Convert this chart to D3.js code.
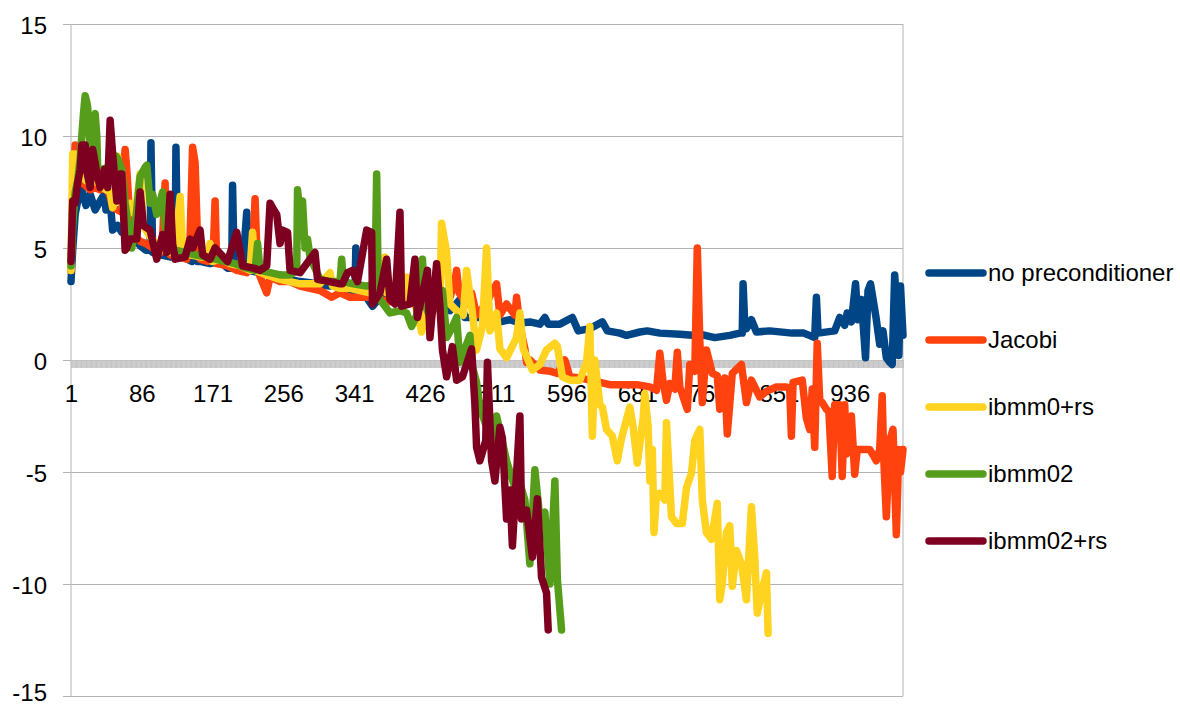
<!DOCTYPE html>
<html>
<head>
<meta charset="utf-8">
<script src="https://cdn.jsdelivr.net/npm/d3@7"></script>
<style>
body { margin: 0; background: #fff; }
svg text { font-family: 'Liberation Sans', Arial, sans-serif; font-size: 24px; fill: #000; }
</style>
</head>
<body>
<svg id="chart" width="1180" height="706"></svg>
<script>
// iterations on the category axis
let categories = d3.range(1, 1001)
let x_tick_labels = [1, 86, 171, 256, 341, 426, 511, 596, 681, 766, 851, 936]
let y_ticks = [-15, -10, -5, 0, 5, 10, 15]

let series_names = ['no preconditioner', 'Jacobi', 'ibmm0+rs', 'ibmm02', 'ibmm02+rs']
let series_colors = ['#004586', '#ff420e', '#ffd320', '#579d1c', '#7e0021']

// [iteration, value]
let no_pre = [[1,3.5],[3,4.9],[6,6.5],[9,7.1],[14,7.6],[19,6.9],[24,7.4],[30,6.7],[36,7.1],[41,7.4],[43,6.7],[48,7.1],[51,5.8],[57,6.0],[62,5.7],[69,5.6],[78,5.4],[84,5.1],[91,4.9],[96,4.9],[97,9.7],[99,4.8],[108,4.7],[120,4.6],[126,4.6],[127,9.5],[129,4.6],[138,4.55],[146,4.4],[151,5.6],[153,4.4],[156,4.4],[168,4.3],[180,4.4],[189,4.1],[194,4.1],[195,7.8],[197,4.1],[207,4.1],[212,6.6],[214,4.0],[228,3.9],[240,3.8],[252,3.8],[264,3.6],[276,3.5],[288,3.45],[300,3.35],[312,3.3],[324,3.3],[336,3.1],[342,3.1],[343,5.0],[345,3.1],[354,2.9],[363,2.4],[372,2.8],[384,2.7],[396,2.6],[408,2.7],[420,2.7],[432,2.6],[444,2.5],[456,2.2],[468,2.7],[474,1.9],[480,1.9],[492,1.9],[504,1.7],[516,1.7],[528,1.8],[540,1.65],[552,1.7],[564,1.6],[570,1.9],[574,1.6],[588,1.6],[603,1.9],[610,1.3],[624,1.4],[639,1.7],[645,1.3],[660,1.2],[668,1.1],[684,1.25],[693,1.3],[708,1.2],[732,1.15],[747,1.1],[756,1.15],[774,1.0],[792,1.1],[804,1.2],[807,1.2],[808,3.4],[810,1.6],[812,1.4],[818,1.8],[824,1.25],[840,1.3],[867,1.2],[881,1.2],[894,1.0],[896,2.8],[898,1.2],[918,1.3],[924,1.9],[930,1.55],[933,2.1],[938,1.7],[943,3.4],[946,1.8],[950,2.7],[955,0.1],[958,3.1],[961,3.4],[965,2.5],[968,1.8],[972,0.7],[976,1.3],[980,0.1],[984,-0.1],[987,-0.2],[990,3.8],[992,2.7],[995,0.2],[997,3.3],[1000,1.1]]

let jacobi = [[1,4.0],[3,6.5],[6,9.6],[8,9.0],[12,8.0],[18,7.8],[24,7.6],[30,7.7],[36,7.6],[43,7.7],[48,7.3],[51,6.8],[57,6.7],[62,6.6],[64,8.5],[66,9.4],[68,8.5],[72,6.0],[78,5.5],[84,5.3],[91,5.2],[99,5.0],[108,4.8],[111,5.5],[114,7.9],[116,5.0],[120,4.7],[132,4.6],[140,4.5],[144,5.5],[147,9.5],[150,8.8],[153,5.3],[156,4.5],[165,4.4],[172,5.0],[174,7.1],[176,4.3],[189,4.2],[200,4.0],[212,3.9],[219,4.5],[222,7.2],[225,4.0],[236,3.0],[240,3.7],[252,3.5],[264,3.5],[276,3.3],[288,3.2],[300,3.1],[314,2.8],[324,3.0],[336,2.8],[348,2.8],[360,2.8],[372,2.7],[384,2.6],[396,2.6],[408,2.7],[420,2.8],[432,2.6],[444,2.7],[456,2.8],[462,3.5],[464,4.0],[467,3.0],[476,2.5],[482,3.0],[488,2.0],[499,2.5],[512,3.4],[516,2.0],[524,2.5],[534,2.0],[536,2.8],[540,1.5],[546,0.5],[548,-0.1],[552,0.0],[564,-0.45],[576,-0.5],[585,-0.6],[594,0.0],[600,-0.75],[612,-0.8],[624,-0.9],[636,-1.0],[648,-1.1],[660,-1.1],[680,-1.1],[696,-1.2],[704,-1.35],[708,0.3],[712,-1.0],[716,-1.8],[720,-1.05],[726,-1.3],[729,0.35],[732,-1.2],[741,-2.2],[744,-0.2],[750,-0.5],[753,5.0],[756,0.9],[759,-1.9],[764,0.45],[771,-0.6],[777,-0.7],[780,-2.2],[786,-0.8],[789,-3.3],[795,-0.6],[806,-0.2],[812,-1.9],[818,-0.9],[828,-1.65],[836,-1.4],[848,-1.2],[860,-1.2],[864,-1.3],[866,-3.4],[868,-1.0],[879,-0.9],[884,-2.6],[888,-3.1],[891,-1.3],[894,-3.9],[897,0.75],[900,-1.8],[903,-1.9],[908,-2.2],[911,-2.3],[915,-5.2],[918,-2.0],[924,-2.0],[927,-5.2],[930,-2.0],[932,-4.2],[938,-2.5],[942,-5.1],[945,-4.0],[960,-4.0],[965,-4.3],[968,-4.5],[972,-4.0],[975,-1.6],[977,-4.5],[980,-7.0],[984,-3.6],[988,-3.1],[992,-7.8],[995,-4.0],[997,-5.0],[1000,-4.0]]

let ibmm0_rs = [[1,4.0],[3,9.2],[6,9.2],[9,8.5],[14,8.2],[19,8.0],[24,8.6],[30,8.0],[36,7.8],[43,7.6],[48,7.5],[51,6.8],[56,7.5],[57,9.1],[60,7.5],[62,7.0],[68,6.3],[72,7.0],[78,6.5],[84,8.3],[88,6.0],[96,5.5],[108,5.0],[120,4.8],[126,5.0],[132,7.3],[135,5.0],[144,4.7],[156,4.6],[165,4.6],[168,5.2],[171,4.4],[180,4.5],[192,4.3],[204,4.2],[216,4.0],[219,5.7],[222,4.0],[236,3.8],[252,3.6],[264,3.5],[276,3.4],[288,3.4],[300,3.4],[312,3.9],[315,3.3],[324,3.2],[336,3.2],[348,3.1],[360,3.0],[372,3.0],[378,4.6],[380,3.0],[396,2.9],[404,3.7],[407,2.6],[414,2.5],[422,1.25],[430,2.5],[444,2.7],[446,6.1],[452,4.8],[456,2.5],[464,2.2],[472,2.0],[476,4.0],[482,2.4],[488,0.45],[495,1.5],[500,5.0],[504,1.3],[512,2.1],[516,0.5],[524,0.1],[536,1.0],[540,2.1],[544,0.5],[555,-0.45],[564,-0.2],[572,0.45],[582,0.75],[585,0.6],[591,-0.75],[600,-0.9],[612,-0.9],[620,-0.1],[624,1.5],[627,-3.4],[630,0.0],[636,-2.0],[639,-2.1],[644,-3.1],[651,-3.4],[657,-4.5],[662,-3.5],[672,-2.1],[676,-3.0],[681,-4.6],[688,-2.6],[690,-1.5],[694,-3.0],[696,-5.4],[699,-4.0],[701,-7.7],[704,-6.0],[708,-5.95],[714,-6.25],[716,-2.8],[722,-7.0],[728,-7.3],[735,-7.3],[740,-5.7],[746,-5.05],[750,-3.6],[756,-3.1],[759,-6.25],[764,-7.7],[770,-8.0],[777,-6.4],[780,-10.7],[783,-10.0],[788,-7.7],[792,-7.4],[795,-10.1],[800,-8.5],[806,-9.1],[812,-10.7],[818,-6.55],[822,-8.8],[825,-11.3],[830,-10.4],[836,-9.5],[838,-12.2]]

let ibmm02 = [[1,4.2],[3,6.0],[6,7.5],[9,8.0],[12,9.0],[16,11.0],[18,11.8],[20,11.5],[21,11.3],[24,9.5],[26,10.5],[30,11.0],[32,10.0],[33,8.6],[36,8.4],[38,8.5],[45,8.6],[51,8.4],[55,9.1],[57,9.0],[62,8.5],[66,7.0],[72,5.5],[74,5.0],[78,6.0],[84,8.2],[90,8.6],[92,8.7],[96,7.0],[99,7.4],[104,6.5],[111,7.5],[114,6.0],[120,5.0],[126,4.9],[138,4.8],[150,4.7],[162,4.6],[174,4.5],[186,4.4],[198,4.3],[212,4.1],[222,4.0],[225,5.2],[228,4.0],[240,3.9],[252,3.8],[264,3.8],[272,4.0],[273,7.6],[276,6.5],[279,7.1],[282,5.0],[285,5.4],[288,4.6],[300,3.6],[312,3.5],[324,3.5],[326,4.5],[328,3.5],[340,3.4],[356,3.3],[366,3.4],[368,8.3],[370,3.0],[372,2.7],[384,2.1],[396,2.2],[404,2.1],[410,1.5],[416,2.0],[423,4.5],[426,2.5],[432,1.9],[440,2.5],[447,3.1],[452,1.0],[458,1.4],[464,1.9],[468,-0.1],[480,1.1],[483,-0.3],[488,-1.0],[492,-2.1],[500,-3.0],[506,-3.7],[512,-2.5],[518,-3.5],[524,-4.5],[534,-5.7],[540,-5.5],[546,-6.25],[552,-9.1],[558,-4.9],[564,-7.1],[570,-6.8],[576,-10.0],[582,-5.4],[585,-9.8],[590,-12.05]]

let ibmm02_rs = [[1,4.4],[3,7.1],[6,7.0],[9,7.9],[12,8.5],[14,9.6],[18,9.6],[19,8.6],[24,7.7],[27,9.4],[30,8.8],[32,8.3],[36,7.7],[41,8.5],[45,7.7],[48,10.7],[51,9.2],[56,7.1],[60,8.3],[62,8.3],[66,4.9],[68,5.0],[72,5.4],[80,5.4],[84,7.5],[88,6.0],[96,5.8],[104,4.5],[111,5.6],[116,4.8],[120,7.4],[123,5.2],[126,4.5],[138,4.6],[144,5.4],[147,5.0],[156,5.8],[159,4.7],[168,4.5],[174,5.0],[189,4.4],[200,5.7],[207,4.2],[220,4.1],[228,4.0],[236,4.2],[240,7.0],[243,6.8],[248,6.5],[252,5.2],[255,5.8],[261,5.7],[264,4.0],[276,3.9],[294,4.8],[297,3.6],[312,3.5],[324,3.4],[327,3.4],[333,3.9],[339,4.0],[345,3.5],[356,5.8],[362,5.7],[363,2.5],[372,3.0],[380,4.5],[384,2.7],[390,2.5],[396,6.6],[398,2.4],[408,2.5],[414,4.5],[417,1.9],[429,4.0],[432,1.0],[440,4.3],[444,2.4],[447,0.45],[452,-0.75],[459,0.6],[464,-0.9],[471,-0.75],[482,0.5],[486,-2.0],[488,-3.9],[492,-4.5],[499,-3.6],[501,-0.1],[506,-4.5],[510,-5.4],[516,-3.0],[519,-3.5],[524,-7.1],[528,-5.8],[531,-8.3],[540,-2.5],[542,-7.1],[548,-6.7],[555,-8.8],[561,-6.2],[566,-9.7],[572,-10.4],[574,-12.05]]

let all_series = [no_pre, jacobi, ibmm0_rs, ibmm02, ibmm02_rs]

let plot = { 'l': 71, 'r': 903, 't': 24, 'b': 696 }

let svg = d3.select('#chart')

let x = d3.scalePoint().domain(categories).range([plot.l, plot.r])
let y = d3.scaleLinear().domain([-15, 15]).range([plot.b, plot.t])

// horizontal grid + y labels (plain hyphen like the original)
let y_axis = svg.append('g')
    .attr('transform', `translate(${plot.l},0)`)
    .call(d3.axisLeft(y).tickValues(y_ticks).tickFormat(d => String(d))
        .tickSize(-(plot.r - plot.l)).tickPadding(24))
y_axis.select('.domain').remove()
y_axis.selectAll('.tick line')
    .attr('x1', -8)
    .attr('stroke', '#b3b3b3')
// bottom label sits on the window edge, nudge it up so it stays whole
y_axis.selectAll('.tick text')
    .attr('dy', d => d === -15 ? '0.2em' : '0.4em')

// frame sides
svg.append('line')
    .attr('x1', plot.l).attr('x2', plot.l)
    .attr('y1', plot.t).attr('y2', plot.b)
    .attr('stroke', '#b3b3b3')
svg.append('line')
    .attr('x1', plot.r).attr('x2', plot.r)
    .attr('y1', plot.t).attr('y2', plot.b)
    .attr('stroke', '#b3b3b3')

// category axis at zero, a mark for every iteration
let x_marks = svg.append('g')
    .attr('transform', `translate(0,${y(0)})`)
    .call(d3.axisBottom(x).tickValues(categories).tickFormat('').tickSize(8))
x_marks.select('.domain').attr('stroke', '#b3b3b3')
x_marks.selectAll('.tick line').attr('stroke', '#c4c4c4')

let x_labels = svg.append('g')
    .attr('transform', `translate(0,${y(0)})`)
    .call(d3.axisBottom(x).tickValues(x_tick_labels).tickSize(0).tickPadding(25))
x_labels.select('.domain').remove()

// series
let line = d3.line()
    .x(d => x(d[0]))
    .y(d => y(d[1]))

svg.append('g').selectAll('path')
    .data(all_series).enter()
    .append('path')
    .attr('d', d => line(d))
    .attr('fill', 'none')
    .attr('stroke', (d, i) => series_colors[i])
    .attr('stroke-width', 7.5)
    .attr('stroke-linejoin', 'round')
    .attr('stroke-linecap', 'round')

// legend
let legend = svg.append('g')
    .selectAll('g')
    .data(series_names).enter()
    .append('g')
    .attr('transform', (d, i) => `translate(929,${273 + i * 67})`)

legend.append('line')
    .attr('x1', 0).attr('x2', 54)
    .attr('stroke', (d, i) => series_colors[i])
    .attr('stroke-width', 7.5)
    .attr('stroke-linecap', 'round')

legend.append('text')
    .attr('x', 59)
    .attr('dy', '0.35em')
    .text(d => d)
</script>
</body>
</html>
